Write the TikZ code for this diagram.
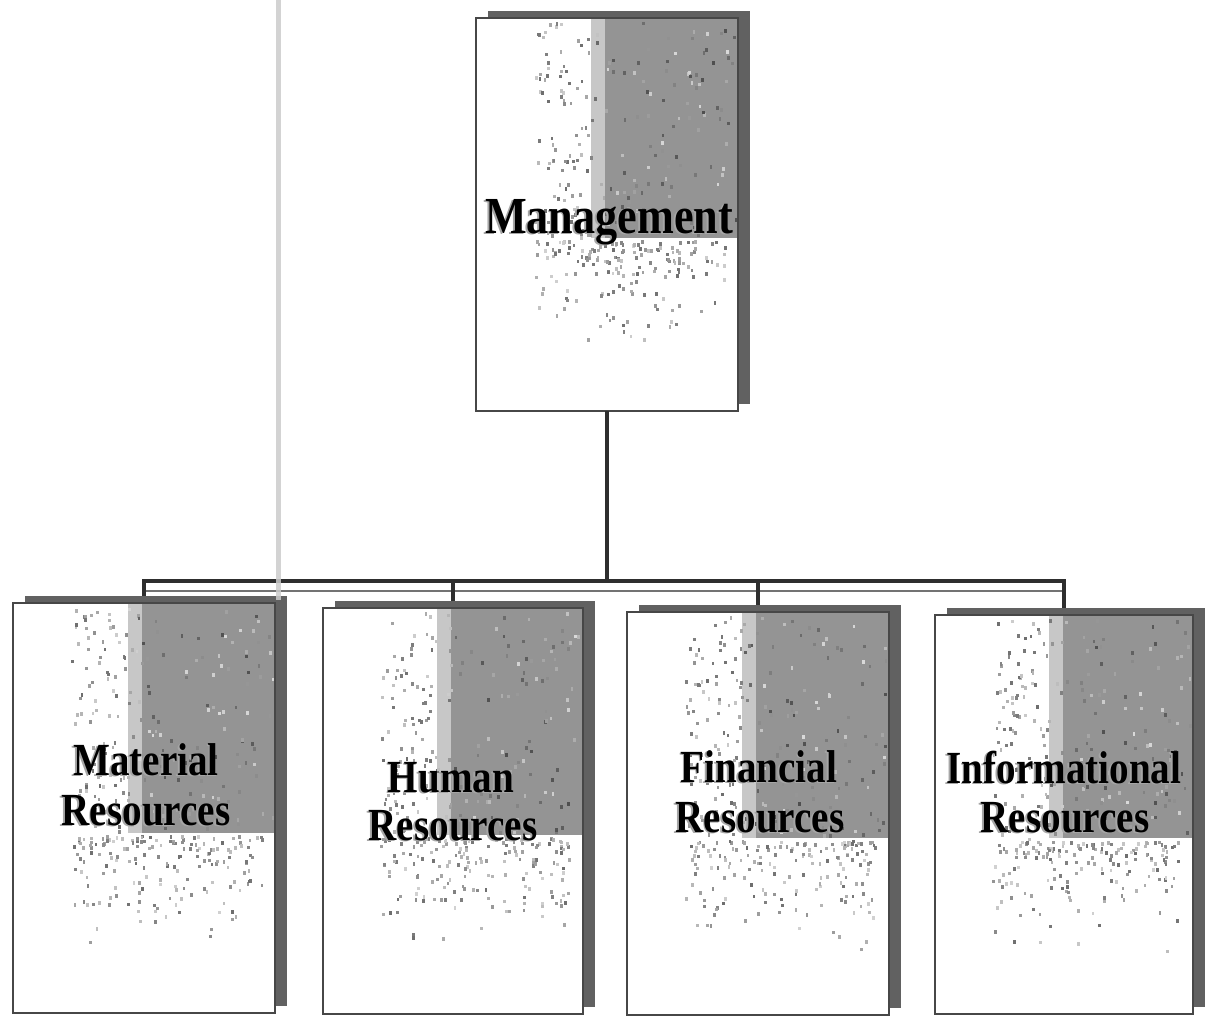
\documentclass[tikz,border=0pt]{standalone}
\usepackage{fontspec}
\newfontfamily\lblfont{Liberation Serif}[FakeStretch=0.85]
\tikzset{
  backpage/.style={fill=black!62, draw=none, inner sep=0pt, rectangle},
  frontpage/.style={fill=white, draw=none, inner sep=0pt, rectangle},
  frontline/.style={draw=black!72, line width=2.2pt},
  graybox/.style={fill=black!42},
  graystrip/.style={fill=black!22},
  conn/.style={draw=black!82, line width=3.4pt},
  lbl/.style={font=\lblfont\bfseries\fontsize{46}{50}\selectfont, inner sep=0pt, anchor=base},
  bigl/.style={font=\lblfont\bfseries\fontsize{52}{56}\selectfont, inner sep=0pt, anchor=base},
  txtshadow/.style={text=black!35},
}
\newcommand\drawbook[5]{%
  \pgfmathsetmacro\bw{#4-#2}\pgfmathsetmacro\bh{#5-#3}%
  \pgfmathsetmacro\cx{(#2+#4)/2}\pgfmathsetmacro\cy{(#3+#5)/2}%
  \pgfmathsetmacro\xg{#2+0.44*\bw}\pgfmathsetmacro\yg{#3+0.56*\bh}%
  \node[backpage, minimum width=\bw pt, minimum height=\bh pt] (#1s) at (\cx+12,\cy-7) {};
  \node[frontpage, minimum width=\bw pt, minimum height=\bh pt] (#1) at (\cx,\cy) {};
  \fill[graybox] (\xg,#3) rectangle (#4,\yg);
  \fill[graystrip] (\xg,#3) rectangle (\xg+14,\yg);
  % speckles left of the gray block
  \foreach \k in {1,...,90}{%
    \pgfmathsetmacro\rx{#2+0.22*\bw+rnd*0.22*\bw}%
    \pgfmathsetmacro\ry{#3+4+rnd*(\yg-#3-4)}%
    \pgfmathsetmacro\rc{int(20+rnd*38)}%
    \fill[black!\rc] (\rx,\ry) rectangle ++(2.8,3.6);}
  % speckles inside the gray block
  \foreach \k in {1,...,110}{%
    \pgfmathsetmacro\rx{\xg+rnd*(#4-\xg-3)}%
    \pgfmathsetmacro\ry{#3+3+rnd*(\yg-#3-6)}%
    \pgfmathsetmacro\rc{int(15+rnd*55)}%
    \fill[black!\rc] (\rx,\ry) rectangle ++(2.8,3.6);}
  % speckles below the gray block
  \foreach \k in {1,...,170}{%
    \pgfmathsetmacro\rx{#2+0.22*\bw+rnd*(0.76*\bw-8)}%
    \pgfmathsetmacro\ry{\yg+2+118*rnd*rnd}%
    \pgfmathsetmacro\rc{int(18+rnd*40)}%
    \fill[black!\rc] (\rx,\ry) rectangle ++(2.8,3.6);}
  \draw[frontline] (#1.north west) rectangle (#1.south east);
}
\newcommand\booklabel[5]{%
  \node[#5, txtshadow] (#1sh) at (#2-1.8,#3+1.8) {#4};
  \node[#5] (#1) at (#2,#3) {#4};
}
\begin{document}
\begin{tikzpicture}[x=1pt,y=-1pt]
\useasboundingbox[fill=white] (0,0) rectangle (1209,1017);
\pgfmathsetseed{4711}

\drawbook{m}{476}{18}{738}{411}
\drawbook{b1}{13}{603}{275}{1013}
\drawbook{b2}{323}{608}{583}{1014}
\drawbook{b3}{627}{612}{889}{1015}
\drawbook{b4}{935}{615}{1193}{1014}

\booklabel{mt}{609}{233}{Management}{bigl}
\booklabel{b1a}{146}{775}{Material}{lbl}
\booklabel{b1b}{146}{825}{Resources}{lbl}
\booklabel{b2a}{451}{792}{Human}{lbl}
\booklabel{b2b}{453}{840}{Resources}{lbl}
\booklabel{b3a}{759}{782}{Financial}{lbl}
\booklabel{b3b}{760}{832}{Resources}{lbl}
\booklabel{b4a}{1064}{783}{Informational}{lbl}
\booklabel{b4b}{1065}{832}{Resources}{lbl}

% connectors
\coordinate (bar) at (609,581);
\coordinate (lowbar) at (609,591);
\draw[conn] (m.south) -- (m.south |- bar);
\draw[black!55, line width=1.5pt] (b1.north |- lowbar) -- (b4.north |- lowbar);
\draw[black!82, line width=4.2pt, line cap=rect] (b1.north |- bar) -- (b4.north |- bar);
\foreach \b in {b1,b2,b3,b4}{
  \draw[conn] (\b.north |- bar) -- (\b.north |- \b s.north);
}

% light vertical rule of the scan
\draw[black!20, line width=5pt, opacity=0.85] (278,0) -- (278,600);
\end{tikzpicture}
\end{document}
